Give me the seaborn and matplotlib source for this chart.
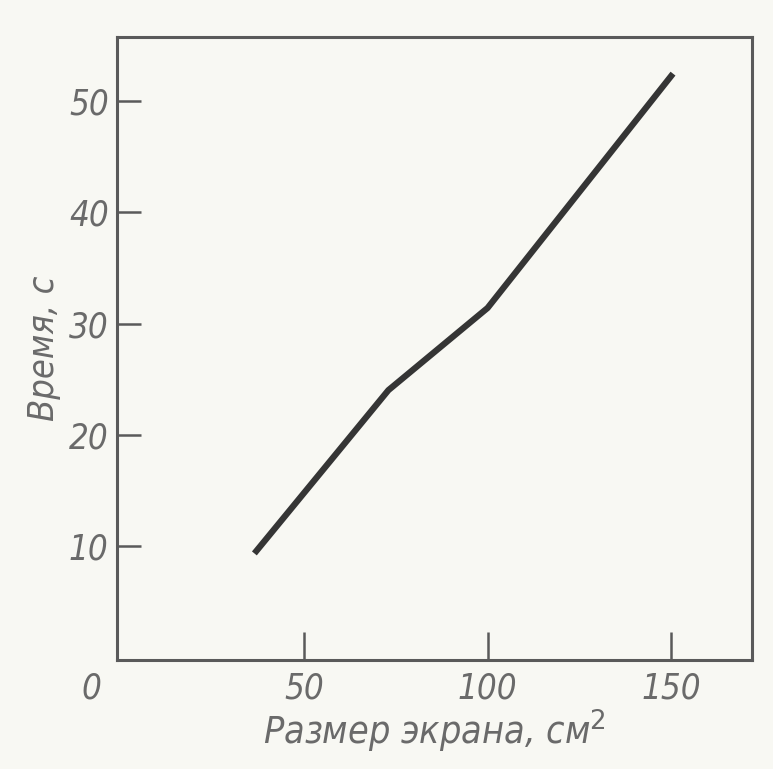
import matplotlib
matplotlib.use("Agg")
import matplotlib.pyplot as plt
import seaborn as sns
import pandas as pd

# Data
screen_size = [36.5, 73, 100, 150.5]      # см^2
time_s = [9.3, 24.0, 31.4, 52.5]          # с
x_ticks = [50, 100, 150]
y_ticks = [10, 20, 30, 40, 50]

df = pd.DataFrame({"size": screen_size, "time": time_s})

sns.set_style("ticks")
plt.rcParams["font.family"] = ["DejaVu Sans"]

bg = "#f8f8f3"
txt = "#6a6a6a"
frame = "#5a5a5a"

fig = plt.figure(figsize=(7.73, 7.69), dpi=100, facecolor=bg)
ax = fig.add_axes([0.1514, 0.1417, 0.8214, 0.8102])
ax.set_facecolor(bg)

sns.lineplot(data=df, x="size", y="time", ax=ax, color="#353535",
             linewidth=4.5, solid_capstyle="butt", solid_joinstyle="round")

ax.set_xlim(-0.9, 172)
ax.set_ylim(-0.3, 55.8)

for s in ax.spines.values():
    s.set_color(frame)
    s.set_linewidth(2.2)

font_kw = dict(style="italic", stretch="condensed", color=txt)

ax.set_xticks(x_ticks)
ax.set_yticks(y_ticks)
ax.set_xticklabels([str(v) for v in x_ticks], fontsize=25, **font_kw)
ax.set_yticklabels([str(v) for v in y_ticks], fontsize=25, **font_kw)
ax.tick_params(axis="x", direction="in", length=20, width=1.8, color=frame, pad=8)
ax.tick_params(axis="y", direction="in", length=17, width=1.8, color=frame, pad=6)

# origin label
ax.text(-0.04, -0.018, "0", transform=ax.transAxes, ha="center", va="top",
        fontsize=25, **font_kw)

ax.set_xlabel("Размер экрана, см$^{2}$", fontsize=27, labelpad=2, **font_kw)
ax.set_ylabel("Время, с", fontsize=26, labelpad=6, **font_kw)

fig.savefig("out.png", dpi=100, facecolor=bg)
